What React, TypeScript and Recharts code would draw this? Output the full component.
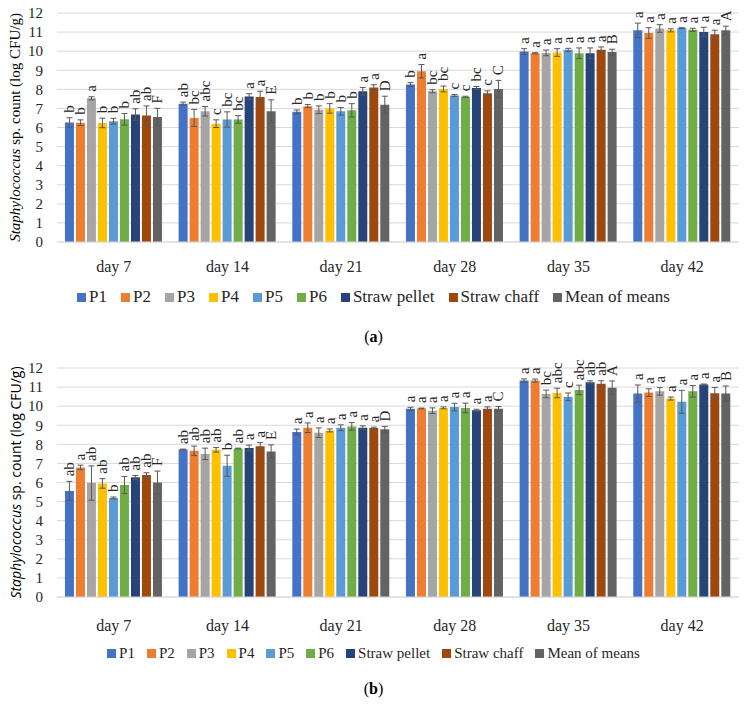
import { Bar, BarChart, CartesianGrid, ErrorBar, LabelList, XAxis, YAxis } from 'recharts'

const DAYS = ['day 7', 'day 14', 'day 21', 'day 28', 'day 35', 'day 42']
const SERIES = ['P1', 'P2', 'P3', 'P4', 'P5', 'P6', 'Straw pellet', 'Straw chaff', 'Mean of means']
const COLORS = ['#4472C4', '#ED7D31', '#A5A5A5', '#FFC000', '#5B9BD5', '#70AD47', '#264478', '#9E480E', '#636363']
const Y_TICKS = [0, 1, 2, 3, 4, 5, 6, 7, 8, 9, 10, 11, 12]

// panel (a): rows = days, columns = series
const MEANS_A = [
  [6.26, 6.25, 7.53, 6.24, 6.33, 6.43, 6.68, 6.63, 6.55],
  [7.25, 6.5, 6.85, 6.2, 6.42, 6.42, 7.62, 7.6, 6.85],
  [6.82, 7.12, 6.93, 7.0, 6.85, 6.9, 7.9, 8.09, 7.19],
  [8.25, 8.95, 7.9, 8.02, 7.68, 7.61, 8.07, 7.8, 8.02],
  [9.98, 9.89, 9.91, 9.93, 10.07, 9.89, 9.89, 10.07, 9.95],
  [11.09, 10.95, 11.19, 11.09, 11.21, 11.12, 11.0, 10.88, 11.09],
]
const ERR_A = [
  [0.25, 0.15, 0.08, 0.25, 0.15, 0.3, 0.3, 0.5, 0.45],
  [0.08, 0.45, 0.25, 0.2, 0.4, 0.2, 0.15, 0.3, 0.6],
  [0.1, 0.08, 0.2, 0.25, 0.2, 0.35, 0.2, 0.15, 0.45],
  [0.1, 0.35, 0.08, 0.15, 0.05, 0.03, 0.08, 0.12, 0.45],
  [0.15, 0.03, 0.15, 0.2, 0.08, 0.28, 0.28, 0.15, 0.15],
  [0.38, 0.28, 0.2, 0.08, 0.02, 0.08, 0.25, 0.22, 0.22],
]
const LETTERS_A = [
  ['b', 'b', 'a', 'b', 'b', 'b', 'ab', 'ab', 'F'],
  ['ab', 'bc', 'abc', 'c', 'bc', 'bc', 'a', 'a', 'E'],
  ['b', 'b', 'b', 'b', 'b', 'b', 'a', 'a', 'D'],
  ['b', 'a', 'bc', 'bc', 'c', 'c', 'bc', 'c', 'C'],
  ['a', 'a', 'a', 'a', 'a', 'a', 'a', 'a', 'B'],
  ['a', 'a', 'a', 'a', 'a', 'a', 'a', 'a', 'A'],
]

// panel (b)
const MEANS_B = [
  [5.56, 6.79, 5.97, 5.95, 5.19, 5.87, 6.27, 6.39, 6.0],
  [7.73, 7.66, 7.5, 7.71, 6.88, 7.78, 7.81, 7.9, 7.62],
  [8.65, 8.87, 8.61, 8.73, 8.87, 8.94, 8.87, 8.85, 8.79],
  [9.86, 9.88, 9.76, 9.91, 9.95, 9.91, 9.79, 9.86, 9.86],
  [11.35, 11.34, 10.64, 10.69, 10.49, 10.85, 11.25, 11.18, 10.97],
  [10.66, 10.71, 10.78, 10.4, 10.23, 10.78, 11.13, 10.68, 10.66],
]
const ERR_B = [
  [0.5, 0.12, 0.9, 0.25, 0.05, 0.45, 0.1, 0.12, 0.6],
  [0.02, 0.25, 0.3, 0.12, 0.55, 0.02, 0.15, 0.2, 0.35],
  [0.15, 0.25, 0.25, 0.08, 0.15, 0.2, 0.1, 0.05, 0.15],
  [0.08, 0.02, 0.15, 0.05, 0.2, 0.25, 0.05, 0.1, 0.12],
  [0.08, 0.08, 0.2, 0.25, 0.2, 0.25, 0.08, 0.15, 0.35],
  [0.45, 0.2, 0.2, 0.08, 0.6, 0.3, 0.03, 0.3, 0.4],
]
const LETTERS_B = [
  ['ab', 'a', 'ab', 'ab', 'b', 'ab', 'ab', 'ab', 'F'],
  ['ab', 'ab', 'ab', 'ab', 'b', 'ab', 'a', 'a', 'E'],
  ['a', 'a', 'a', 'a', 'a', 'a', 'a', 'a', 'D'],
  ['a', 'a', 'a', 'a', 'a', 'a', 'a', 'a', 'C'],
  ['a', 'a', 'bc', 'abc', 'c', 'abc', 'ab', 'ab', 'A'],
  ['a', 'a', 'a', 'a', 'a', 'a', 'a', 'a', 'B'],
]

const SERIF = 'Liberation Serif, DejaVu Serif, serif'
const SANS = 'Open Sans, Noto Sans, sans-serif'

function buildRows(means: number[][], err: number[][], letters: string[][]) {
  return DAYS.map((day, d) => {
    const row: Record<string, string | number> = { day }
    SERIES.forEach((_, i) => {
      row[`v${i}`] = means[d][i]
      row[`e${i}`] = err[d][i]
      row[`l${i}`] = letters[d][i]
    })
    return row
  })
}

function YLabel({ viewBox, font, size }: any) {
  const cx = 15
  const cy = viewBox.y + viewBox.height / 2
  return (
    <text
      x={cx}
      y={cy}
      transform={`rotate(-90, ${cx}, ${cy})`}
      textAnchor="middle"
      dominantBaseline="central"
      style={{ fontFamily: font, fontSize: size }}
      fill="#000"
    >
      <tspan fontStyle="italic">Staphylococcus</tspan>
      <tspan> sp. count (log CFU/g)</tspan>
    </text>
  )
}

function Panel({ means, err, letters, top, tickGap, legendTop, legendSize, caption, captionTop, yFont, ySize }: any) {
  const data = buildRows(means, err, letters)
  return (
    <>
      <div style={{ position: 'absolute', left: 0, top }}>
        <BarChart
          width={747}
          height={282}
          data={data}
          margin={{ top: 13, right: 8, left: 0, bottom: 0 }}
          barCategoryGap="7%"
          barGap={2}
          style={{ fontFamily: SERIF }}
        >
          <CartesianGrid vertical={false} stroke="#d9d9d9" />
          <XAxis
            dataKey="day"
            height={40}
            tickSize={0}
            tickMargin={tickGap}
            axisLine={{ stroke: '#d9d9d9' }}
            tick={{ fill: '#262626', fontSize: 16, style: { fontFamily: SERIF } }}
          />
          <YAxis
            width={57}
            domain={[0, 12]}
            ticks={Y_TICKS}
            interval={0}
            tickSize={0}
            tickMargin={14}
            axisLine={false}
            tick={{ fill: '#262626', fontSize: 15, style: { fontFamily: SERIF } }}
            label={<YLabel font={yFont} size={ySize} />}
          />
          {SERIES.map((s, i) => (
            <Bar key={s} dataKey={`v${i}`} name={s} fill={COLORS[i]} isAnimationActive={false}>
              <ErrorBar dataKey={`e${i}`} width={3} stroke="#595959" strokeWidth={1} direction="y" />
              <LabelList
                dataKey={`l${i}`}
                content={(p: any) => {
                  const mean = means[p.index][i]
                  const pxPerUnit = Math.abs(p.height) / mean
                  const cx = p.x + p.width / 2
                  const ty = p.y - err[p.index][i] * pxPerUnit - 5
                  return (
                    <text
                      x={cx}
                      y={ty}
                      transform={`rotate(-90, ${cx}, ${ty})`}
                      textAnchor="start"
                      dominantBaseline="central"
                      style={{ fontFamily: SERIF, fontSize: 15 }}
                      fill="#262626"
                    >
                      {p.value}
                    </text>
                  )
                }}
              />
            </Bar>
          ))}
        </BarChart>
      </div>
      <div
        style={{
          position: 'absolute',
          left: 0,
          width: 747,
          top: legendTop,
          display: 'flex',
          justifyContent: 'center',
          gap: legendSize > 15 ? 14 : 12,
          fontFamily: SERIF,
          fontSize: legendSize,
          color: '#262626',
        }}
      >
        {SERIES.map((s, i) => (
          <span key={s} style={{ display: 'flex', alignItems: 'center', gap: 3 }}>
            <span style={{ width: 9, height: 9, background: COLORS[i], display: 'inline-block' }} />
            {s}
          </span>
        ))}
      </div>
      <div
        style={{
          position: 'absolute',
          left: 0,
          width: 747,
          top: captionTop,
          textAlign: 'center',
          fontFamily: SERIF,
          fontSize: 16,
        }}
      >
        (<b>{caption}</b>)
      </div>
    </>
  )
}

export default function App() {
  return (
    <div style={{ position: 'absolute', left: 0, top: 0, width: 747, height: 704, background: '#fff' }}>
      <Panel
        means={MEANS_A}
        err={ERR_A}
        letters={LETTERS_A}
        top={0}
        tickGap={19}
        legendTop={287}
        legendSize={17}
        caption="a"
        captionTop={328}
        yFont={SERIF}
        ySize={15}
      />
      <Panel
        means={MEANS_B}
        err={ERR_B}
        letters={LETTERS_B}
        top={355}
        tickGap={23}
        legendTop={645}
        legendSize={15}
        caption="b"
        captionTop={680}
        yFont={SANS}
        ySize={14}
      />
    </div>
  )
}
